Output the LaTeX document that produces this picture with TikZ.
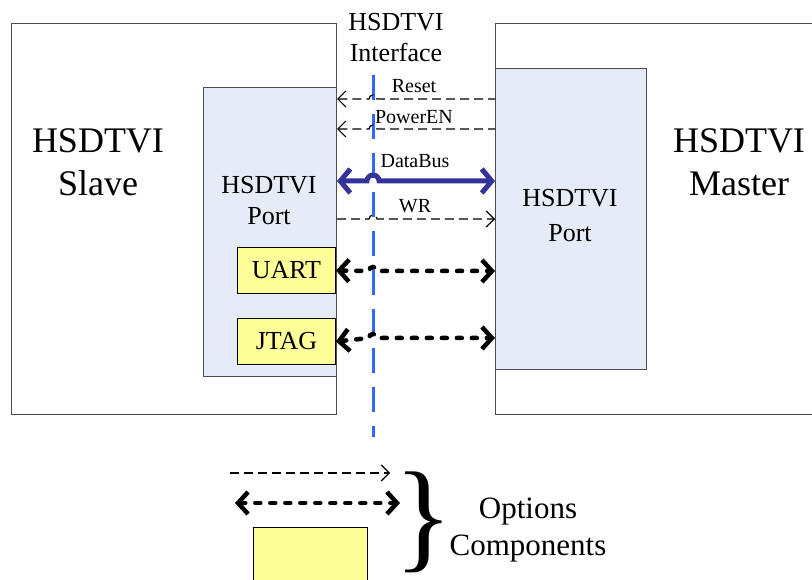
\documentclass[tikz,border=0pt]{standalone}
\usepackage{fontspec}
\setmainfont{Liberation Serif}
\usetikzlibrary{arrows.meta,positioning}
\definecolor{portfill}{RGB}{230,236,247}
\definecolor{optfill}{RGB}{255,255,153}
\definecolor{ifblue}{RGB}{51,102,255}
\definecolor{busblue}{RGB}{51,51,153}
\tikzset{
    unitbox/.style={draw=black!70, line width=1pt, fill=white, inner sep=0pt, anchor=north west},
    portbox/.style={unitbox, fill=portfill},
    optbox/.style={draw=black, line width=1pt, fill=optfill, minimum width=98pt, minimum height=46pt, inner sep=0pt, font=\fontsize{26}{30}\selectfont},
    bigtext/.style={align=center, inner sep=0pt, font=\fontsize{36}{43}\selectfont},
    porttext/.style={align=center, inner sep=0pt, font=\fontsize{26}{31}\selectfont},
    siglabel/.style={anchor=base, inner sep=0pt, font=\fontsize{20}{24}\selectfont},
    ctrl/.style={line width=1.2pt, dash pattern=on 9pt off 5pt, >={Straight Barb[length=8pt,width=16pt]}},
    databus/.style={<->, line width=5pt, busblue, >={Straight Barb[length=10pt,width=24pt]}},
    optlink/.style={<->, line width=4.5pt, line cap=round, dash pattern=on 5pt off 10pt, >={Straight Barb[length=10pt,width=22pt]}},
    iface/.style={ifblue, line width=3pt, dash pattern=on 25pt off 14pt}
}
\begin{document}
\begin{tikzpicture}[x=1pt, y=1pt]
    \useasboundingbox (0,0) rectangle (812,-580);
    % slave and master
    \node[unitbox, minimum width=325pt, minimum height=391pt] (slave) at (11,-23) {};
    \node[unitbox, minimum width=340pt, minimum height=391pt] (master) at (495,-23) {};
    \node[portbox, minimum width=133pt, minimum height=289pt] (sport) at (203,-87) {};
    \node[portbox, minimum width=151pt, minimum height=301pt] (mport) at (495,-68) {};
    \node[optbox, anchor=north east] (uart) at (336,-247) {UART};
    \node[optbox, below=24pt of uart] (jtag) {JTAG};

    \node[bigtext] (slavetxt) at (98,-162) {HSDTVI\\Slave};
    \node[bigtext] (mastertxt) at (739,-162) {HSDTVI\\Master};
    \node[porttext] (sporttxt) at (269,-201) {HSDTVI\\Port};
    \node[porttext, font=\fontsize{26}{35}\selectfont] (mporttxt) at (570,-216) {HSDTVI\\Port};
    \node[porttext] (iftxt) at (396,-38) {HSDTVI\\Interface};

    % interface line
    \coordinate (iftop) at (373,-75);
    \coordinate (ifbot) at (373,-437);
    \draw[iface] (iftop) -- (ifbot);

    % signals
    \coordinate (rst) at (373,-99);
    \coordinate (pen) at (373,-129);
    \coordinate (dbus) at (373,-181);
    \coordinate (wr) at (373,-219);
    \coordinate (ua) at (373,-271);
    \coordinate (jt) at (373,-338);
    \draw[ctrl, <-] (sport.east |- rst) -- ([xshift=-4pt]rst) arc[start angle=180, end angle=0, radius=4pt] -- (mport.west |- rst);
    \draw[ctrl, <-] (sport.east |- pen) -- ([xshift=-4pt]pen) arc[start angle=180, end angle=0, radius=4pt] -- (mport.west |- pen);
    \draw[databus] (sport.east |- dbus) -- ([xshift=-6pt]dbus) arc[start angle=180, end angle=0, radius=6pt] -- (mport.west |- dbus);
    \draw[ctrl, ->] (sport.east |- wr) -- ([xshift=-4pt]wr) arc[start angle=180, end angle=0, radius=4pt] -- (mport.west |- wr);
    \draw[optlink] (uart.east) -- ([xshift=-4pt]ua) arc[start angle=180, end angle=0, radius=4pt] -- (mport.west |- ua);
    \draw[optlink] (jtag.east) -- ([xshift=-4pt]jt) arc[start angle=180, end angle=0, radius=4pt] -- (mport.west |- jt);

    \node[siglabel] (rstlbl) at (414,-93) {Reset};
    \node[siglabel] (penlbl) at (414,-124) {PowerEN};
    \node[siglabel] (dbuslbl) at (415,-168) {DataBus};
    \node[siglabel] (wrlbl) at (415,-213) {WR};

    % legend
    \coordinate (lga) at (230,-473);
    \coordinate (lgb) at (390,-473);
    \coordinate (lgc) at (235,-503);
    \coordinate (lgd) at (400,-503);
    \draw[ctrl, ->] (lga) -- (lgb);
    \draw[optlink] (lgc) -- (lgd);
    \node[optbox, minimum width=114pt, minimum height=64pt, anchor=north west] (lgbox) at (253,-527) {};
    \node[inner sep=0pt, font=\fontsize{122}{122}\selectfont] (brace) at (424,-522) {\}};
    \node[align=center, inner sep=0pt, font=\fontsize{31}{37}\selectfont] (lgtxt) at (528,-530) {Options\\Components};
\end{tikzpicture}
\end{document}
